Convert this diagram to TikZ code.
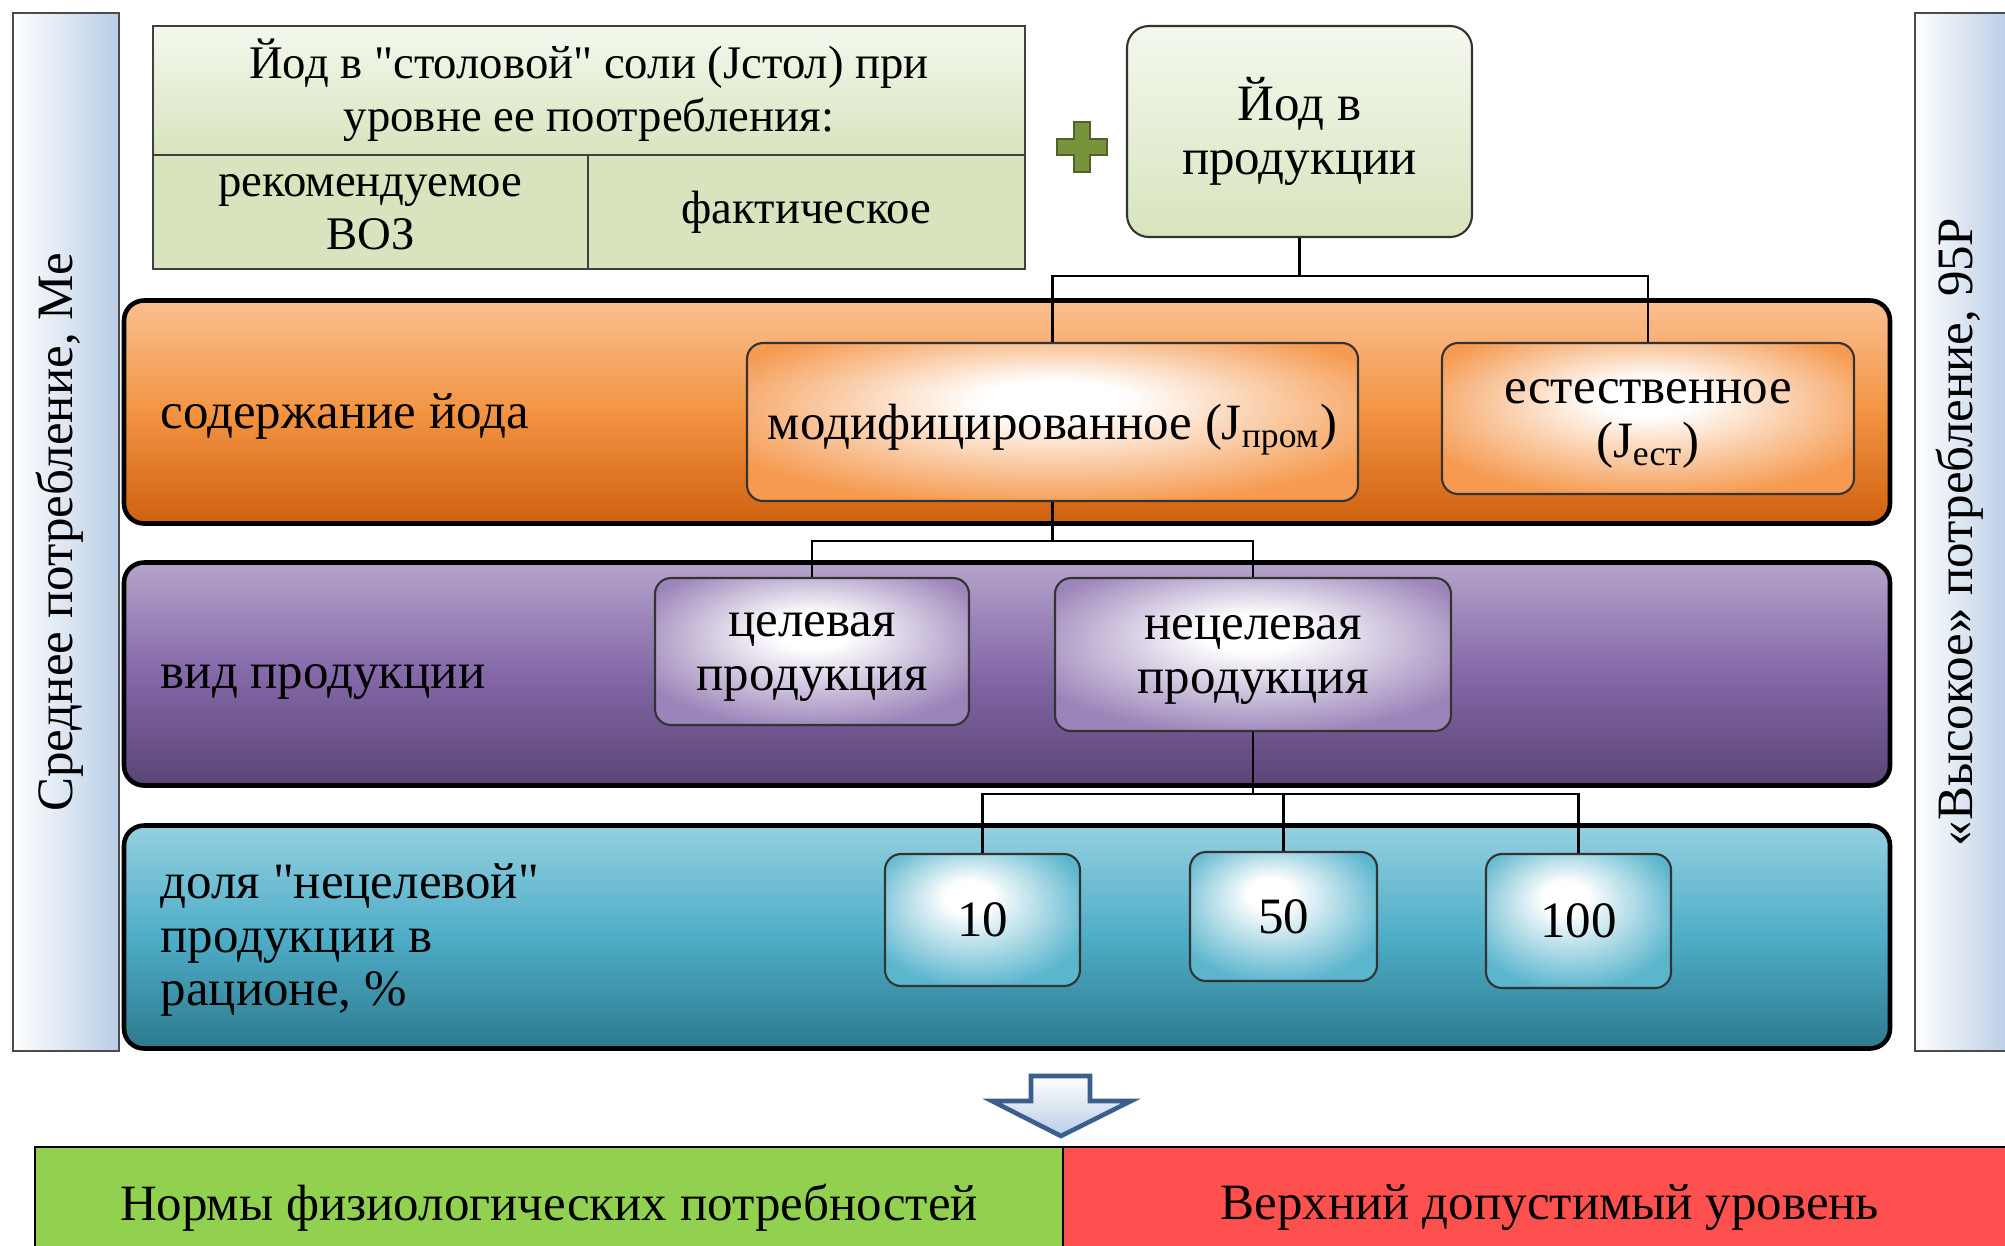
\documentclass[tikz,border=0pt]{standalone}
\usepackage{fontspec}
\setmainfont{Liberation Serif}[Ligatures=TeXOff]
\usetikzlibrary{positioning}

\definecolor{tabTop}{HTML}{F4F8EE}
\definecolor{tabBot}{HTML}{D7E4BD}
\definecolor{plusFill}{HTML}{77933C}
\definecolor{plusLine}{HTML}{4F6228}
\definecolor{orTop}{HTML}{FAC090}
\definecolor{orMid}{HTML}{F39443}
\definecolor{orBot}{HTML}{CF610E}
\definecolor{orEdge}{HTML}{F59A50}
\definecolor{puTop}{HTML}{B4A4CA}
\definecolor{puMid}{HTML}{8468A8}
\definecolor{puBot}{HTML}{5A4475}
\definecolor{puEdge}{HTML}{9B84B9}
\definecolor{teTop}{HTML}{95D0E0}
\definecolor{teMid}{HTML}{4EADC7}
\definecolor{teBot}{HTML}{2D7A8E}
\definecolor{teEdge}{HTML}{5BB5CD}
\definecolor{sideBlue}{HTML}{B9CDE5}
\definecolor{arrowLine}{HTML}{3A5F8E}
\definecolor{normGreen}{HTML}{92D050}
\definecolor{upperRed}{HTML}{FF5050}

\pgfdeclareradialshading{glowor}{\pgfpoint{0bp}{8bp}}{color(0bp)=(white); color(6bp)=(white); color(30bp)=(orEdge); color(50bp)=(orEdge)}
\pgfdeclareradialshading{glowpu}{\pgfpoint{0bp}{8bp}}{color(0bp)=(white); color(6bp)=(white); color(30bp)=(puEdge); color(50bp)=(puEdge)}
\pgfdeclareradialshading{glowte}{\pgfpoint{-4bp}{10bp}}{color(0bp)=(white); color(6bp)=(white); color(30bp)=(teEdge); color(50bp)=(teEdge)}

\begin{document}
\begin{tikzpicture}
	[x=0.1mm, y=-0.1mm,
	bigtext/.style={font=\fontsize{14.5}{15.3}\selectfont},
	smalltext/.style={font=\fontsize{13.3}{15}\selectfont},
	cell/.style={draw=black!75, line width=0.5pt, inner sep=0pt, align=center, smalltext},
	side/.style={draw=black!70, line width=0.5pt, left color=white, right color=sideBlue, inner sep=0pt, minimum height=103.8mm},
	band/.style={draw=black, line width=1.3pt, rounded corners=2mm, inner sep=0pt, minimum width=176.6mm, minimum height=22.3mm},
	bandlabel/.style={anchor=west, align=left, inner sep=0pt, bigtext},
	item/.style={draw=black!80, line width=0.6pt, rounded corners=1.6mm, inner sep=0pt, align=center, text depth=0pt, bigtext},
	conn/.style={draw=black, line width=0.6pt},
	limitbox/.style={draw=black, line width=0.6pt, inner sep=0pt, minimum height=11mm, text depth=0pt, bigtext}]
	
	% Fix page size
	\useasboundingbox (0,0) rectangle (2005,1245);
	\clip (0,0) rectangle (2005,1245);

	% Draw side bars
	\node[side, minimum width=10.6mm] (sideL) at (66,532) {};
	\node[rotate=90, bigtext] (meanT) at (60,532) {Среднее потребление, Me};
	\node[side, minimum width=9.5mm] (sideR) at (1962.5,532) {};
	\node[rotate=90, bigtext] (highT) at (1960,532) {«Высокое» потребление, 95P};

	% Draw salt table
	\node[cell, top color=tabTop, bottom color=tabBot, minimum width=87.2mm, minimum height=12.9mm] (salt) at (589,90.5)
		{Йод в "столовой" соли (Jстол) при\\уровне ее поотребления:};
	\node[cell, fill=tabBot, minimum width=43.5mm, minimum height=11.4mm] (who) at (370.5,212) {рекомендуемое\\ВОЗ};
	\node[cell, fill=tabBot, minimum width=43.7mm, minimum height=11.4mm] (fact) at (806.5,212) {фактическое};

	% Create plus sign
	\filldraw[fill=plusFill, draw=plusLine, line width=0.8pt]
		(1074,122) -- (1090,122) -- (1090,139) -- (1107,139) -- (1107,155) -- (1090,155) -- (1090,172)
		-- (1074,172) -- (1074,155) -- (1057,155) -- (1057,139) -- (1074,139) -- cycle;

	% Create product box
	\node[item, text depth=3.2pt, rounded corners=2.2mm, top color=tabTop, bottom color=tabBot, minimum width=34.5mm, minimum height=21.1mm] (prod) at (1299.5,131.5)
		{Йод в\\продукции};

	% Draw bands
	\node[band, top color=orTop, bottom color=orBot, middle color=orMid] (iodine) at (1007,412) {};
	\node[bandlabel] (iodineT) at (160,416) {содержание йода};
	\node[band, top color=puTop, bottom color=puBot, middle color=puMid] (kind) at (1007,674) {};
	\node[bandlabel] (kindT) at (160,682) {вид продукции};
	\node[band, top color=teTop, bottom color=teBot, middle color=teMid] (share) at (1007,937) {};
	\node[bandlabel] (shareT) at (160,940) {доля "нецелевой"\\продукции в\\рационе, \%};

	% Create inner boxes
	\node[item, shade, shading=glowor, minimum width=61.1mm, minimum height=15.8mm] (modif) at (1052.5,422)
		{модифицированное (J\textsubscript{пром})};
	\node[item, shade, shading=glowor, minimum width=41.2mm, minimum height=15.1mm] (nat) at (1648,418.5)
		{естественное\\(J\textsubscript{ест})};
	\node[item, shade, shading=glowpu, minimum width=31.4mm, minimum height=14.7mm] (target) at (812,651.5)
		{целевая\\продукция};
	\node[item, shade, shading=glowpu, minimum width=39.6mm, minimum height=15.3mm] (nontarget) at (1253,654.5)
		{нецелевая\\продукция};
	\node[item, shade, shading=glowte, minimum width=19.5mm, minimum height=13.2mm] (p10) at (982.5,920) {10};
	\node[item, shade, shading=glowte, minimum width=18.7mm, minimum height=12.9mm] (p50) at (1283.5,916.5) {50};
	\node[item, shade, shading=glowte, minimum width=18.5mm, minimum height=13.4mm] (p100) at (1578.5,921) {100};

	% Draw connectors
	\draw[conn] (prod.south) -- ++(0,38) coordinate (forkA) -| (modif.north);
	\draw[conn] (forkA) -| (nat.north);
	\draw[conn] (modif.south) -- ++(0,39) coordinate (forkB) -| (target.north);
	\draw[conn] (forkB) -| (nontarget.north);
	\draw[conn] (nontarget.south) -- ++(0,62) coordinate (forkC) -| (p10.north);
	\draw[conn] (forkC) -| (p50.north);
	\draw[conn] (forkC) -| (p100.north);

	% Create down arrow
	\draw[draw=arrowLine, line width=1.3pt, top color=white, bottom color=sideBlue]
		(1031,1076) -- (1090,1076) -- (1090,1101) -- (1131,1101) -- (1061,1136)
		-- (992,1101) -- (1031,1101) -- cycle;

	% Create limits
	\node[limitbox, fill=normGreen, minimum width=102.8mm] (norm) at (549,1202) {Нормы физиологических потребностей};
	\node[limitbox, fill=upperRed, minimum width=97.4mm] (upper) at (1550,1202) {Верхний допустимый уровень};

\end{tikzpicture}
\end{document}
